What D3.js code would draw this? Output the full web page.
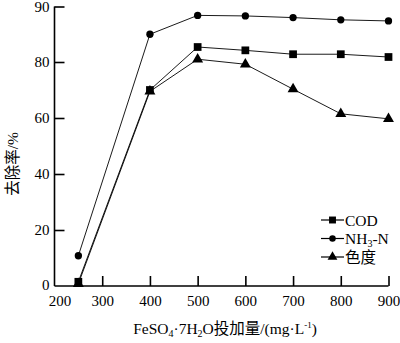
<!DOCTYPE html>
<html>
<head>
<meta charset="utf-8">
<script src="https://cdn.jsdelivr.net/npm/d3@7"></script>
<style>
  html, body { margin: 0; padding: 0; background: #fff; }
  svg { display: block; }
  text { fill: #000; }
</style>
</head>
<body>
<svg id="chart" width="400" height="343"></svg>
<script>
// Dosage of FeSO4·7H2O (mg/L)
const dosage = [250, 400, 500, 600, 700, 800, 900];
// Removal rates (%)
const cod   = [1.5, 70.0, 82.7, 82.1, 81.4, 81.4, 80.9];
const nh3n  = [10.8, 85.0, 88.4, 88.3, 88.0, 87.6, 87.4];
const color = [0.8, 69.5, 80.5, 79.2, 70.3, 61.5, 59.7];

const xTicks = [200, 300, 400, 500, 600, 700, 800, 900];
const yTicks = [0, 20, 40, 60, 80, 90];

const series = [
  { name: "COD", values: cod, symbol: d3.symbolSquare, size: 60 },
  { name: "NH3-N", values: nh3n, symbol: d3.symbolCircle, size: 42 },
  { name: "色度", values: color, symbol: d3.symbolTriangle, size: 52 }
];

const svg = d3.select("#chart");
const serif = "'Liberation Serif', 'Times New Roman', serif";
const cjk = "'Liberation Serif', 'Noto Sans CJK SC', serif";

const x = d3.scaleLinear().domain([200, 900]).range([54.5, 388.5]);
// The axis is stretched above 80 %
const y = d3.scaleLinear().domain([0, 80, 90]).range([286, 62, 6.5]);

// Axes
const xAxis = d3.axisBottom(x).tickValues(xTicks).tickSize(-10).tickPadding(6).tickFormat(d3.format("d"));
const gx = svg.append("g").attr("transform", `translate(0,${y(0)})`).call(xAxis);
gx.select(".domain").attr("d", `M${x(200)},0H${x(900)}`);
gx.selectAll(".tick").filter(d => d === 200).select("line").remove();
gx.selectAll(".tick text").attr("dy", "0.95em");
// keep the first label clear of the "0" on the value axis
gx.selectAll(".tick").filter(d => d === 200).select("text").attr("dx", 5);

const yAxis = d3.axisLeft(y).tickValues(yTicks).tickSize(-10).tickPadding(5).tickFormat(d3.format("d"));
const gy = svg.append("g").attr("transform", `translate(${x(200)},0)`).call(yAxis);
gy.select(".domain").attr("d", `M0,${y(0)}V${y(90)}`);
gy.selectAll(".tick").filter(d => d === 0).select("line").remove();
gy.selectAll(".tick").filter(d => d === 0).select("text").attr("dy", "0.2em");

[gx, gy].forEach(g => {
  g.selectAll(".domain").attr("stroke", "#000").attr("stroke-width", 1.6);
  g.selectAll(".tick line").attr("stroke", "#000").attr("stroke-width", 1.6);
  g.selectAll(".tick text").attr("font-family", serif).attr("font-size", 15).attr("fill", "#000");
});

// Lines and markers
const line = d3.line().x((d, i) => x(dosage[i])).y(d => y(d));
series.forEach(s => {
  svg.append("path").datum(s.values)
    .attr("d", line).attr("fill", "none").attr("stroke", "#000").attr("stroke-width", 0.9);
  svg.append("g").selectAll("path").data(s.values).join("path")
    .attr("transform", (d, i) => `translate(${x(dosage[i])},${y(d)})`)
    .attr("d", d3.symbol().type(s.symbol).size(s.size))
    .attr("fill", "#000");
});

// Legend
const legend = svg.append("g").attr("transform", "translate(321,220)");
series.forEach((s, i) => {
  const row = legend.append("g").attr("transform", `translate(0,${i * 18.5})`);
  row.append("line").attr("x1", 0).attr("x2", 23).attr("y1", 0).attr("y2", 0)
    .attr("stroke", "#000").attr("stroke-width", 1.2);
  row.append("path").attr("transform", "translate(11.5,0)")
    .attr("d", d3.symbol().type(s.symbol).size(s.size * 0.8)).attr("fill", "#000");
  const t = row.append("text").attr("x", 24).attr("y", 5.5)
    .attr("font-family", cjk).attr("font-size", 15.5);
  if (s.name === "NH3-N") {
    t.append("tspan").text("NH");
    t.append("tspan").text("3").attr("font-size", 10).attr("dy", 3);
    t.append("tspan").text("-N").attr("dy", -3);
  } else {
    t.text(s.name);
  }
});

// Axis titles
const xt = svg.append("text").attr("x", 225).attr("y", 334)
  .attr("text-anchor", "middle").attr("font-family", cjk).attr("font-size", 15.5);
xt.append("tspan").text("FeSO");
xt.append("tspan").text("4").attr("font-size", 10).attr("dy", 3);
xt.append("tspan").text("·7H").attr("dy", -3);
xt.append("tspan").text("2").attr("font-size", 10).attr("dy", 3);
xt.append("tspan").text("O投加量/(mg·L").attr("dy", -3);
xt.append("tspan").text("-1").attr("font-size", 9).attr("dy", -6);
xt.append("tspan").text(")").attr("dy", 6);

svg.append("text")
  .attr("transform", "translate(18,164) rotate(-90)")
  .attr("text-anchor", "middle").attr("font-family", cjk).attr("font-size", 15.5)
  .text("去除率/%");
</script>
</body>
</html>
